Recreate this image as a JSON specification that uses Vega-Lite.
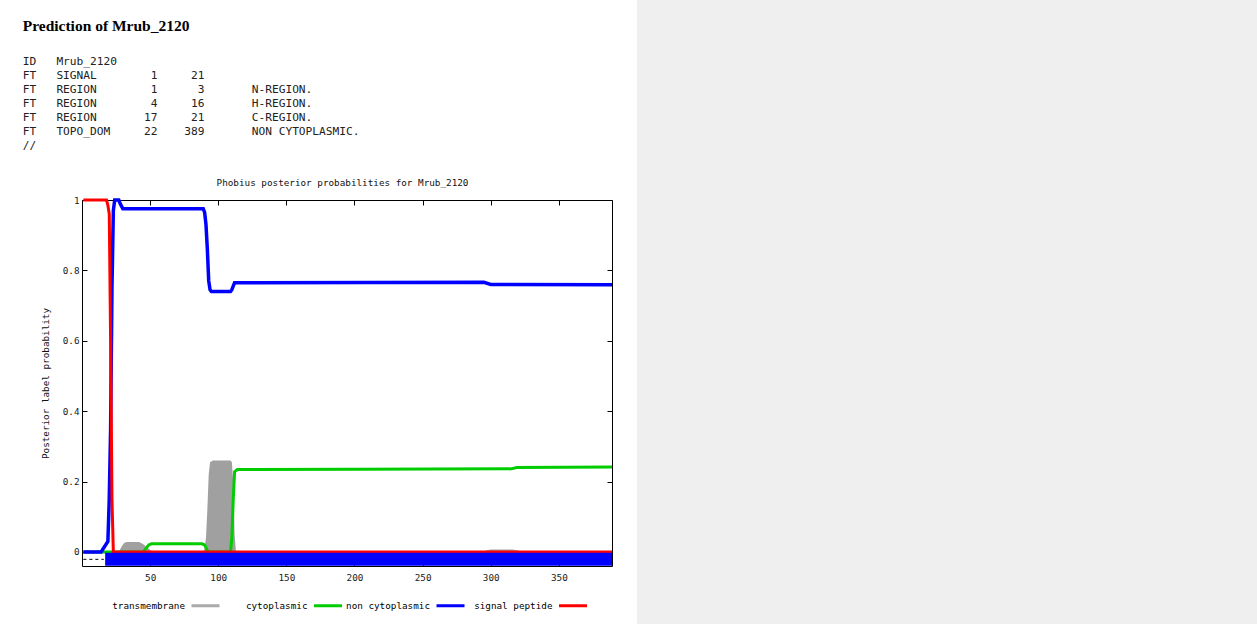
{
  "$schema": "https://vega.github.io/schema/vega-lite/v6.json",
  "background": "white",
  "padding": {"left": 22, "top": 0, "right": 0, "bottom": 0},
  "spacing": 17,
  "datasets": {
    "curves": [
      {"series": "transmembrane", "pos": 1, "prob": 0},
      {"series": "transmembrane", "pos": 27, "prob": 0},
      {"series": "transmembrane", "pos": 29, "prob": 0.015},
      {"series": "transmembrane", "pos": 31, "prob": 0.026},
      {"series": "transmembrane", "pos": 33, "prob": 0.028},
      {"series": "transmembrane", "pos": 42, "prob": 0.028},
      {"series": "transmembrane", "pos": 45, "prob": 0.022},
      {"series": "transmembrane", "pos": 48, "prob": 0.012},
      {"series": "transmembrane", "pos": 51, "prob": 0.003},
      {"series": "transmembrane", "pos": 53, "prob": 0},
      {"series": "transmembrane", "pos": 89, "prob": 0},
      {"series": "transmembrane", "pos": 90, "prob": 0.01},
      {"series": "transmembrane", "pos": 91, "prob": 0.04},
      {"series": "transmembrane", "pos": 92, "prob": 0.12},
      {"series": "transmembrane", "pos": 93, "prob": 0.22},
      {"series": "transmembrane", "pos": 94, "prob": 0.255},
      {"series": "transmembrane", "pos": 96, "prob": 0.26},
      {"series": "transmembrane", "pos": 109, "prob": 0.26},
      {"series": "transmembrane", "pos": 110, "prob": 0.255},
      {"series": "transmembrane", "pos": 111, "prob": 0.2},
      {"series": "transmembrane", "pos": 112, "prob": 0.05},
      {"series": "transmembrane", "pos": 113, "prob": 0},
      {"series": "transmembrane", "pos": 294, "prob": 0},
      {"series": "transmembrane", "pos": 297, "prob": 0.005},
      {"series": "transmembrane", "pos": 300, "prob": 0.007},
      {"series": "transmembrane", "pos": 316, "prob": 0.007},
      {"series": "transmembrane", "pos": 320, "prob": 0.004},
      {"series": "transmembrane", "pos": 323, "prob": 0},
      {"series": "transmembrane", "pos": 389, "prob": 0},
      {"series": "cytoplasmic", "pos": 1, "prob": 0},
      {"series": "cytoplasmic", "pos": 45, "prob": 0},
      {"series": "cytoplasmic", "pos": 47, "prob": 0.01},
      {"series": "cytoplasmic", "pos": 49, "prob": 0.02},
      {"series": "cytoplasmic", "pos": 51, "prob": 0.023},
      {"series": "cytoplasmic", "pos": 88, "prob": 0.023},
      {"series": "cytoplasmic", "pos": 90, "prob": 0.02},
      {"series": "cytoplasmic", "pos": 91, "prob": 0.012},
      {"series": "cytoplasmic", "pos": 92, "prob": 0.004},
      {"series": "cytoplasmic", "pos": 93, "prob": 0},
      {"series": "cytoplasmic", "pos": 109, "prob": 0},
      {"series": "cytoplasmic", "pos": 110, "prob": 0.04},
      {"series": "cytoplasmic", "pos": 111, "prob": 0.15},
      {"series": "cytoplasmic", "pos": 112, "prob": 0.228},
      {"series": "cytoplasmic", "pos": 114, "prob": 0.234},
      {"series": "cytoplasmic", "pos": 200, "prob": 0.235},
      {"series": "cytoplasmic", "pos": 315, "prob": 0.236},
      {"series": "cytoplasmic", "pos": 319, "prob": 0.24},
      {"series": "cytoplasmic", "pos": 389, "prob": 0.241},
      {"series": "non cytoplasmic", "pos": 1, "prob": 0},
      {"series": "non cytoplasmic", "pos": 14, "prob": 0},
      {"series": "non cytoplasmic", "pos": 19, "prob": 0.03},
      {"series": "non cytoplasmic", "pos": 20, "prob": 0.15},
      {"series": "non cytoplasmic", "pos": 21, "prob": 0.35},
      {"series": "non cytoplasmic", "pos": 22, "prob": 0.75},
      {"series": "non cytoplasmic", "pos": 23, "prob": 0.97},
      {"series": "non cytoplasmic", "pos": 24, "prob": 1},
      {"series": "non cytoplasmic", "pos": 27, "prob": 1},
      {"series": "non cytoplasmic", "pos": 28, "prob": 0.99},
      {"series": "non cytoplasmic", "pos": 30, "prob": 0.975},
      {"series": "non cytoplasmic", "pos": 89, "prob": 0.975},
      {"series": "non cytoplasmic", "pos": 90, "prob": 0.965},
      {"series": "non cytoplasmic", "pos": 91, "prob": 0.93},
      {"series": "non cytoplasmic", "pos": 92, "prob": 0.86},
      {"series": "non cytoplasmic", "pos": 93, "prob": 0.77},
      {"series": "non cytoplasmic", "pos": 94, "prob": 0.745},
      {"series": "non cytoplasmic", "pos": 95, "prob": 0.74},
      {"series": "non cytoplasmic", "pos": 109, "prob": 0.74},
      {"series": "non cytoplasmic", "pos": 110, "prob": 0.745},
      {"series": "non cytoplasmic", "pos": 111, "prob": 0.755},
      {"series": "non cytoplasmic", "pos": 112, "prob": 0.765},
      {"series": "non cytoplasmic", "pos": 295, "prob": 0.766},
      {"series": "non cytoplasmic", "pos": 300, "prob": 0.76},
      {"series": "non cytoplasmic", "pos": 389, "prob": 0.759},
      {"series": "signal peptide", "pos": 1, "prob": 1},
      {"series": "signal peptide", "pos": 18, "prob": 1},
      {"series": "signal peptide", "pos": 19, "prob": 0.985},
      {"series": "signal peptide", "pos": 20, "prob": 0.96},
      {"series": "signal peptide", "pos": 21, "prob": 0.6},
      {"series": "signal peptide", "pos": 22, "prob": 0.15},
      {"series": "signal peptide", "pos": 23, "prob": 0},
      {"series": "signal peptide", "pos": 389, "prob": 0}
    ],
    "bands": [
      {"series": "non cytoplasmic", "start": 17, "end": 389, "level": -0.021}
    ],
    "signalTrack": [
      {"start": 1, "end": 16, "level": -0.021}
    ],
    "pagePanel": [
      {"left": 0, "right": 620, "bottom": 0, "top": 624}
    ]
  },
  "config": {
    "view": {"stroke": "black", "strokeWidth": 1},
    "axis": {
      "labelFont": "DejaVu Sans Mono",
      "labelFontSize": 9.3,
      "labelColor": "#222",
      "titleFont": "DejaVu Sans Mono",
      "titleFontSize": 9.3,
      "titleFontWeight": "normal",
      "titleColor": "#111",
      "domain": false,
      "grid": false,
      "tickColor": "black",
      "tickSize": -5,
      "tickWidth": 1
    },
    "legend": {
      "orient": "none",
      "legendX": 108,
      "legendY": 390,
      "direction": "horizontal",
      "symbolType": "stroke",
      "symbolSize": 784,
      "symbolStrokeWidth": 3,
      "labelFont": "DejaVu Sans Mono",
      "labelFontSize": 9.3,
      "labelColor": "black",
      "labelAlign": "right",
      "labelOffset": -36,
      "columnPadding": -2.5
    }
  },
  "hconcat": [
    {
      "width": 530,
      "height": 366,
      "title": {
        "text": ["", "Prediction of Mrub_2120"],
        "subtitle": [
          "",
          "ID\u00a0\u00a0\u00a0Mrub_2120",
          "FT\u00a0\u00a0\u00a0SIGNAL\u00a0\u00a0\u00a0\u00a0\u00a0\u00a0\u00a0\u00a01\u00a0\u00a0\u00a0\u00a0\u00a021",
          "FT\u00a0\u00a0\u00a0REGION\u00a0\u00a0\u00a0\u00a0\u00a0\u00a0\u00a0\u00a01\u00a0\u00a0\u00a0\u00a0\u00a0\u00a03\u00a0\u00a0\u00a0\u00a0\u00a0\u00a0\u00a0N-REGION.",
          "FT\u00a0\u00a0\u00a0REGION\u00a0\u00a0\u00a0\u00a0\u00a0\u00a0\u00a0\u00a04\u00a0\u00a0\u00a0\u00a0\u00a016\u00a0\u00a0\u00a0\u00a0\u00a0\u00a0\u00a0H-REGION.",
          "FT\u00a0\u00a0\u00a0REGION\u00a0\u00a0\u00a0\u00a0\u00a0\u00a0\u00a017\u00a0\u00a0\u00a0\u00a0\u00a021\u00a0\u00a0\u00a0\u00a0\u00a0\u00a0\u00a0C-REGION.",
          "FT\u00a0\u00a0\u00a0TOPO_DOM\u00a0\u00a0\u00a0\u00a0\u00a022\u00a0\u00a0\u00a0\u00a0389\u00a0\u00a0\u00a0\u00a0\u00a0\u00a0\u00a0NON CYTOPLASMIC.",
          "//"
        ],
        "anchor": "start",
        "frame": "bounds",
        "dx": -18.5,
        "font": "Liberation Serif",
        "fontSize": 15.5,
        "fontWeight": "bold",
        "color": "black",
        "lineHeight": 15,
        "subtitleFont": "DejaVu Sans Mono",
        "subtitleFontSize": 11.2,
        "subtitleColor": "#222",
        "subtitleLineHeight": 14.1,
        "subtitlePadding": 7,
        "offset": 27
      },
      "resolve": {"axis": {"x": "independent", "y": "independent"}},
      "layer": [
        {
          "data": {"name": "curves"},
          "transform": [{"filter": "datum.series === 'transmembrane'"}],
          "mark": {"type": "area", "color": "#a0a0a0", "interpolate": "linear"},
          "encoding": {
            "x": {"field": "pos", "type": "quantitative", "scale": {"domain": [0, 389], "nice": false, "zero": false},
                  "axis": {"orient": "bottom", "values": [50, 100, 150, 200, 250, 300, 350], "title": null, "labelPadding": 12}},
            "y": {"field": "prob", "type": "quantitative", "scale": {"domain": [-0.04, 1], "nice": false},
                  "axis": {"orient": "left", "values": [0, 0.2, 0.4, 0.6, 0.8, 1], "format": "~g", "title": "Posterior label probability", "labelPadding": 8, "titlePadding": 12}}
          }
        },
        {
          "data": {"name": "curves"},
          "transform": [{"filter": "datum.series === 'cytoplasmic'"}],
          "mark": {"type": "line", "strokeWidth": 3, "interpolate": "linear"},
          "encoding": {
            "x": {"field": "pos", "type": "quantitative", "scale": {"domain": [0, 389], "nice": false, "zero": false},
                  "axis": {"orient": "top", "values": [50, 100, 150, 200, 250, 300, 350], "labels": false, "title": "Phobius posterior probabilities for Mrub_2120", "titlePadding": 12, "titleX": 260}},
            "y": {"field": "prob", "type": "quantitative", "scale": {"domain": [-0.04, 1], "nice": false},
                  "axis": {"orient": "right", "values": [0, 0.2, 0.4, 0.6, 0.8, 1], "labels": false, "title": null}},
            "color": {"field": "series", "type": "nominal", "title": null,
                      "scale": {"domain": ["transmembrane", "cytoplasmic", "non cytoplasmic", "signal peptide"], "range": ["#aaaaaa", "#00cc00", "#0000ff", "#ff0000"]},
                      "legend": {"labelExpr": "'\u200b' + pad(datum.label, 15, '\u00a0', 'left')"}}
          }
        },
        {
          "data": {"name": "curves"},
          "transform": [{"filter": "datum.series === 'non cytoplasmic'"}],
          "mark": {"type": "line", "strokeWidth": 3.5, "interpolate": "linear"},
          "encoding": {
            "x": {"field": "pos", "type": "quantitative", "scale": {"domain": [0, 389], "nice": false, "zero": false}, "axis": null},
            "y": {"field": "prob", "type": "quantitative", "scale": {"domain": [-0.04, 1], "nice": false}, "axis": null},
            "color": {"field": "series", "type": "nominal", "title": null,
                      "scale": {"domain": ["transmembrane", "cytoplasmic", "non cytoplasmic", "signal peptide"], "range": ["#aaaaaa", "#00cc00", "#0000ff", "#ff0000"]},
                      "legend": {"labelExpr": "'\u200b' + pad(datum.label, 15, '\u00a0', 'left')"}}
          }
        },
        {
          "data": {"name": "curves"},
          "transform": [{"filter": "datum.series === 'signal peptide'"}],
          "mark": {"type": "line", "strokeWidth": 3, "interpolate": "linear"},
          "encoding": {
            "x": {"field": "pos", "type": "quantitative", "scale": {"domain": [0, 389], "nice": false, "zero": false}, "axis": null},
            "y": {"field": "prob", "type": "quantitative", "scale": {"domain": [-0.04, 1], "nice": false}, "axis": null},
            "color": {"field": "series", "type": "nominal", "title": null,
                      "scale": {"domain": ["transmembrane", "cytoplasmic", "non cytoplasmic", "signal peptide"], "range": ["#aaaaaa", "#00cc00", "#0000ff", "#ff0000"]},
                      "legend": {"labelExpr": "'\u200b' + pad(datum.label, 15, '\u00a0', 'left')"}}
          }
        },
        {
          "data": {"name": "bands"},
          "mark": {"type": "rule", "strokeWidth": 13, "strokeCap": "butt"},
          "encoding": {
            "x": {"field": "start", "type": "quantitative", "scale": {"domain": [0, 389], "nice": false, "zero": false}, "axis": null},
            "x2": {"field": "end"},
            "y": {"field": "level", "type": "quantitative", "scale": {"domain": [-0.04, 1], "nice": false}, "axis": null},
            "color": {"field": "series", "type": "nominal", "title": null,
                      "scale": {"domain": ["transmembrane", "cytoplasmic", "non cytoplasmic", "signal peptide"], "range": ["#aaaaaa", "#00cc00", "#0000ff", "#ff0000"]},
                      "legend": {"labelExpr": "'\u200b' + pad(datum.label, 15, '\u00a0', 'left')"}}
          }
        },
        {
          "data": {"name": "signalTrack"},
          "mark": {"type": "rule", "strokeWidth": 1, "color": "black", "strokeDash": [3, 3]},
          "encoding": {
            "x": {"field": "start", "type": "quantitative", "scale": {"domain": [0, 389], "nice": false, "zero": false}, "axis": null},
            "x2": {"field": "end"},
            "y": {"field": "level", "type": "quantitative", "scale": {"domain": [-0.04, 1], "nice": false}, "axis": null}
          }
        }
      ]
    },
    {
      "width": 620,
      "height": 424,
      "view": {"stroke": null},
      "data": {"name": "pagePanel"},
      "mark": {"type": "rect", "color": "#efefef"},
      "encoding": {
        "x": {"field": "left", "type": "quantitative", "scale": {"domain": [0, 620], "nice": false, "zero": false}, "axis": null},
        "x2": {"field": "right"},
        "y": {"field": "bottom", "type": "quantitative", "scale": {"domain": [0, 424], "nice": false, "zero": false}, "axis": null},
        "y2": {"field": "top"}
      }
    }
  ]
}
